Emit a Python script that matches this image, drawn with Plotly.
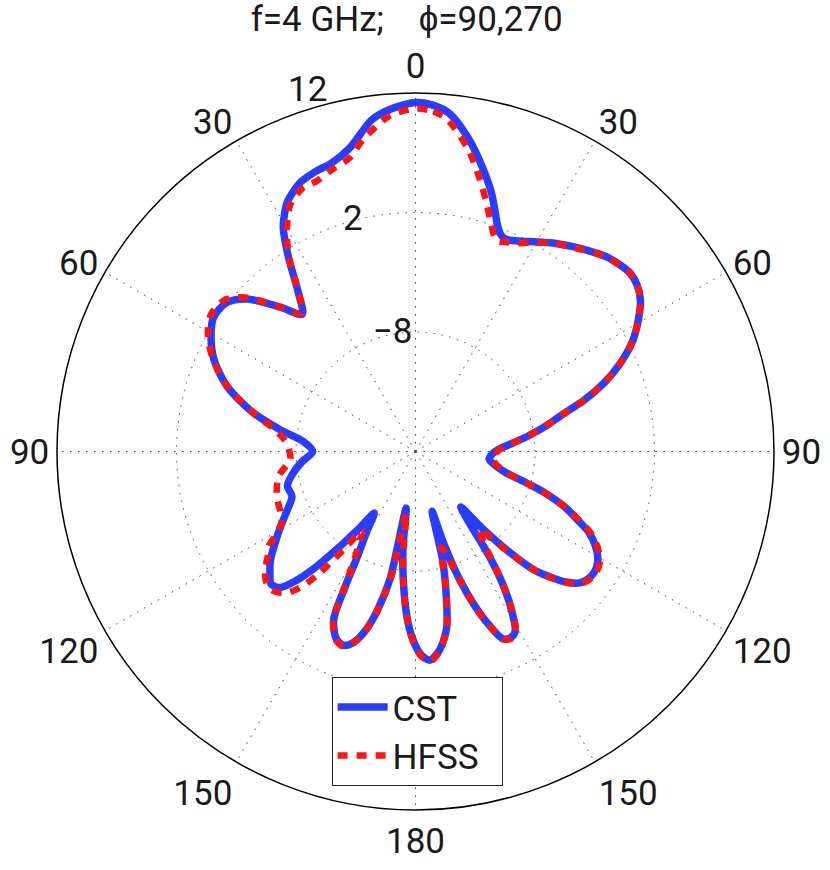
import plotly.graph_objects as go

# angle measured clockwise from top (0..360); right half = phi 90 cut, left half = phi 270 cut
theta_cst = [0, 3, 5.8, 9.9, 13.3, 16.3, 18, 20, 21.5, 23, 26, 30, 34, 38, 42, 45, 50, 53, 56, 59,
             63, 67, 70, 73, 76, 79, 82, 85, 88, 92, 96, 100, 103, 106, 108, 110.5, 113, 115, 118, 121,
             124, 127, 129, 131, 133, 135, 137, 139, 140.8, 143, 145, 147, 149, 151, 153, 155, 157, 159,
             161, 163, 164.5, 166, 168, 170, 173, 176, 178.5, 181, 183, 185.5, 187.5, 189.4, 191.3, 193.5,
             195.4, 198, 200.4, 203, 206, 207.5, 209, 211.5, 213.8, 216.5, 218.5, 221, 223, 225, 227.5,
             230, 233.4, 237, 241, 245, 250, 255, 260, 265, 270, 275, 279, 283.3, 289, 294.4, 299.2,
             303.7, 308.4, 312.2, 316.9, 320.5, 323.5, 326.8, 329.5, 332.9, 336.9, 340.6, 343.5, 347.8,
             352.5, 355.7, 360]
gain_cst = [11.2, 11.0, 10.4, 8.4, 6.4, 4.6, 3.4, 2.1, 1.5, 1.3, 1.6, 2.25, 3.0, 3.7, 4.4, 4.9, 5.35, 5.2, 4.7, 3.8,
            2.4, 0.5, -1.2, -3.2, -5.4, -6.9, -8.4, -9.8, -10.9, -11.6, -11.8, -11.2, -10.3, -8.2, -6.4, -4.6, -3.2, -2.0, -0.9, -0.2,
            0.05, -0.1, -0.5, -1.35, -2.6, -4.0, -6.5, -9.5, -12.0, -10.5, -7.0, -4.3, -2.3, -0.8, -0.5, -0.7, -2.2, -4.2,
            -6.7, -10.0, -12.8, -8.6, -5.6, -3.0, -1.3, -0.5, -1.0, -2.4, -4.2, -7.3, -10.0, -13.2, -7.1, -4.3,
            -2.6, -1.2, -0.7, -1.0, -2.4, -5.3, -8.0, -10.3, -11.8, -9.8, -7.9, -5.0, -3.1, -1.9, -1.6,
            -2.1, -2.9, -4.0, -5.1, -6.1, -7.0, -6.9, -7.6, -8.5, -9.4, -8.6, -6.6, -4.1, -1.35, 0.5, 1.6,
            2.3, 2.1, 1.0, -1.45, -3.1, -1.55, 1.4, 3.8, 5.5, 6.5, 6.9, 7.1, 8.0,
            10.0, 10.7, 11.2]

theta_hfss = [0, 3, 5.5, 10, 13, 16, 18.5, 21, 23.5, 26, 30, 34, 38, 42, 45, 50, 53, 56, 59,
              63, 67, 70, 73, 76, 79, 82, 85, 88, 92, 96, 100, 103, 106, 108, 110.5, 113, 115, 118, 121,
              124, 127, 129, 131, 133, 135, 137, 139, 140.8, 143, 145, 147, 149, 151, 153, 155, 157, 159,
              161, 163, 165, 167, 168, 170, 173, 176, 178.5, 181, 183, 185.5, 187, 188.5, 191, 193.5,
              195.4, 198, 200.4, 203, 206, 207.5, 209.5, 212, 214, 216, 218.2, 220, 222.3, 225, 227.2,
              229.5, 231.9, 234.5, 237.2, 239.6, 242, 245.6, 252.1, 259.7, 266.2, 270, 273.7, 278.2,
              283.3, 289, 294.4, 299.2, 303.7, 308.4, 312.2, 316.9, 320.5, 323.5, 326.8, 329.8, 333.2,
              336.9, 340, 343.5, 347.4, 350.5, 355.7, 360]
gain_hfss = [10.7, 10.5, 9.9, 7.6, 5.6, 3.6, 2.0, 0.9, 1.1, 1.4, 2.2, 3.0, 3.6, 4.4, 4.85, 5.35, 5.2, 4.7, 3.8,
             2.4, 0.5, -1.2, -3.2, -5.4, -7.0, -8.5, -9.8, -10.8, -11.4, -11.5, -11.0, -10.2, -8.2, -6.4, -4.5, -3.0, -1.8, -0.7, 0.0,
             0.2, 0.0, -0.4, -1.3, -2.5, -4.0, -6.3, -8.4, -9.6, -8.6, -6.8, -4.3, -2.2, -0.7, -0.4, -0.7, -2.1, -4.1,
             -6.5, -8.8, -9.7, -7.2, -5.5, -3.0, -1.2, -0.4, -0.9, -2.3, -4.1, -7.2, -9.8, -12.8, -7.3, -4.3,
             -2.6, -1.2, -0.6, -0.9, -2.3, -5.0, -7.6, -9.2, -10.0, -8.2, -5.1, -3.3, -2.0, -1.4, -1.25,
             -1.5, -2.0, -2.8, -3.4, -4.6, -5.3, -5.6, -5.8, -6.35, -7.5, -7.45, -7.2, -6.3,
             -4.1, -1.35, 0.6, 1.9, 2.6, 2.4, 1.2, -1.45, -3.05, -1.6, 1.3, 3.4, 5.2,
             6.0, 6.1, 6.6, 7.2, 8.5, 10.2, 10.7]

angle_ticks = [0, 30, 60, 90, 120, 150, 180, 210, 240, 270, 300, 330]
angle_labels = ["0", "30", "60", "90", "120", "150", "180", "150", "120", "90", "60", "30"]
r_ticks = [-8, 2, 12]
r_labels = ["\u22128", "2", "12"]
r_label_angles = [349, 344.8, 342.5]
r_label_pos = ["middle center", "middle center", "top center"]
r_min, r_max = -18, 12

FONT = "Roboto, Arial, sans-serif"
grid_dash = "1.5px,6.5px"

fig = go.Figure()
fig.add_trace(go.Scatterpolar(
    r=gain_cst, theta=theta_cst, mode="lines", name="CST",
    line=dict(color="#2a3cff", width=7.5, shape="spline", smoothing=0.8),
))
fig.add_trace(go.Scatterpolar(
    r=gain_hfss, theta=theta_hfss, mode="lines", name="HFSS\u00a0\u00a0",
    line=dict(color="#ff1414", width=6.5, dash="10px,9px", shape="spline", smoothing=0.8),
))
fig.add_trace(go.Scatterpolar(
    r=r_ticks, theta=r_label_angles, mode="text", text=r_labels,
    textposition=r_label_pos, showlegend=False, hoverinfo="skip", cliponaxis=False,
    textfont=dict(family=FONT, size=35, color="#1a1a1a"),
))

fig.update_layout(
    width=830, height=870,
    margin=dict(l=57, r=56, t=93, b=60),
    paper_bgcolor="white",
    title=dict(text="f=4 GHz;\u00a0\u00a0\u00a0\u00a0\u03d5=90,270", x=0.49, xanchor="center",
               y=0.992, yanchor="top", font=dict(family=FONT, size=35, color="#1a1a1a")),
    polar=dict(
        bgcolor="white",
        domain=dict(x=[0, 1], y=[0, 1]),
        angularaxis=dict(
            rotation=90, direction="clockwise",
            tickmode="array", tickvals=angle_ticks, ticktext=angle_labels,
            ticks="", showline=True, linecolor="black", linewidth=1.5,
            showgrid=True, gridcolor="#444", gridwidth=1, griddash=grid_dash,
            tickfont=dict(family=FONT, size=35, color="#1a1a1a"),
        ),
        radialaxis=dict(
            range=[r_min, r_max], tickmode="array", tickvals=r_ticks,
            showticklabels=False, ticks="", showline=False,
            showgrid=True, gridcolor="#444", gridwidth=1, griddash=grid_dash,
        ),
    ),
    legend=dict(
        x=0.383, y=0.186, xanchor="left", yanchor="top",
        bgcolor="white", bordercolor="#222", borderwidth=1, itemwidth=50,
        font=dict(family=FONT, size=35, color="#1a1a1a"),
    ),
)

fig.write_html("out.html", config={"displayModeBar": False},
               post_script="document.body.style.margin='0px';")
